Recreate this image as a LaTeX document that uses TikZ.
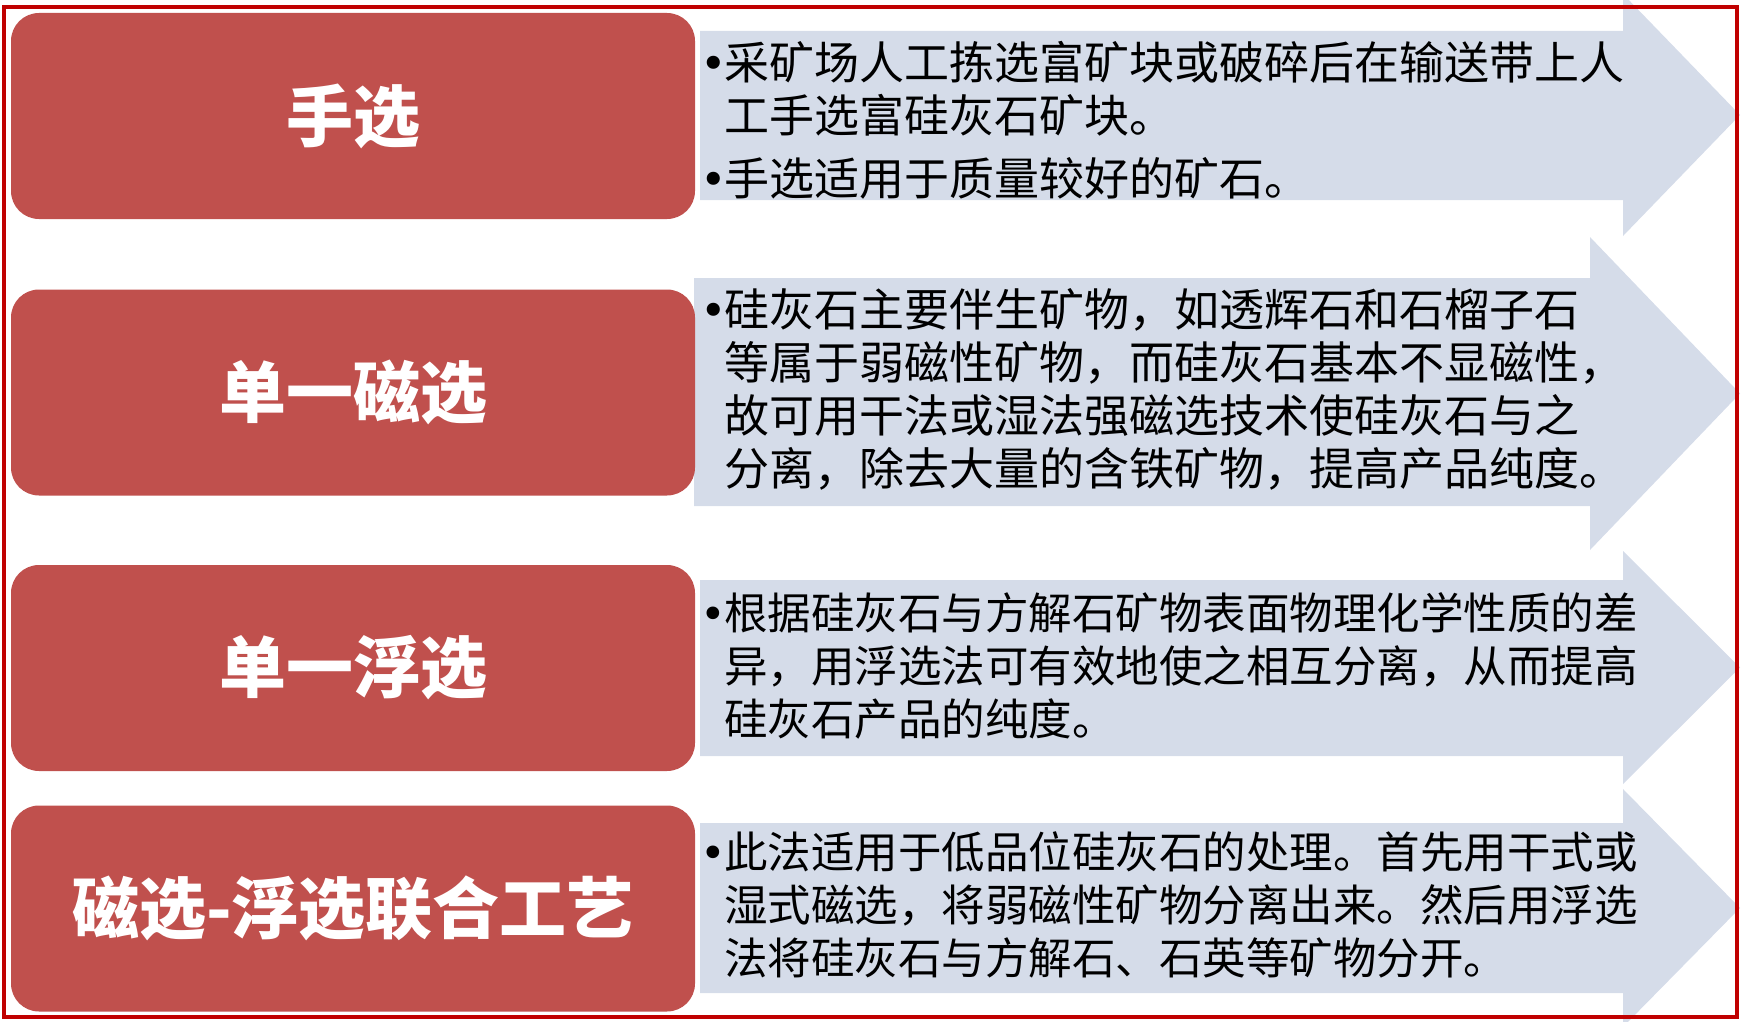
\documentclass[tikz,border=0pt]{standalone}
\usepackage{fontspec}
\newfontfamily\cjk{Noto Sans CJK SC}
\newfontfamily\dejavu{DejaVu Sans}
\usepackage{tikz}

\definecolor{boxred}{HTML}{C0504D}
\definecolor{arrowgray}{HTML}{D5DCE9}
\definecolor{framered}{HTML}{C00000}

\newcommand{\bul}{\makebox[18pt][l]{\hspace*{-6pt}{\dejavu •}}}
\newcommand{\ind}{\hspace*{18pt}}

\begin{document}
\begin{tikzpicture}[x=1pt,y=-1pt,
    method/.style={fill=boxred, rounded corners=28pt, minimum width=684pt,
      minimum height=206pt, text=white, font=\cjk\bfseries\fontsize{67}{72}\selectfont},
    note/.style={anchor=north west, inner sep=0pt, align=left,
      font=\cjk\fontsize{#1}{53}\selectfont}]

    \useasboundingbox (0,0) rectangle (1743,1022);

    % grey arrows: body top, body bottom, head top, head bottom, head base
    \foreach \bt/\bb/\ht/\hb/\hx/\lx in {31/200/-6/236/1623/700,
                                         278/506/237/550/1590/694,
                                         580/756/551/784/1623/700,
                                         823/993/789/1027/1623/700}
      \fill[arrowgray] (\lx,\bt) -- (\hx,\bt) -- (\hx,\ht) -- (1740,{(\ht+\hb)/2})
                       -- (\hx,\hb) -- (\hx,\bb) -- (\lx,\bb) -- cycle;

    % red boxes
    \node[method] (shouxuan) at (353,116) {手选};
    \node[method] (cixuan) at (353,392.5) {单一磁选};
    \node[method] (fuxuan) at (353,668) {单一浮选};
    \node[method] (lianhe) at (353,908.5) {磁选-浮选联合工艺};

    % texts
    \node[note=45] (shouxuantext) at (706,41) {\bul 采矿场人工拣选富矿块或破碎后在输送带上人\\
      \ind 工手选富硅灰石矿块。\\[10pt]
      \bul 手选适用于质量较好的矿石。};
    \node[note=45] (cixuantext) at (706,288) {\bul 硅灰石主要伴生矿物，如透辉石和石榴子石\\
      \ind 等属于弱磁性矿物，而硅灰石基本不显磁性，\\
      \ind 故可用干法或湿法强磁选技术使硅灰石与之\\
      \ind 分离，除去大量的含铁矿物，提高产品纯度。};
    \node[note=43.5] (fuxuantext) at (706,592) {\bul 根据硅灰石与方解石矿物表面物理化学性质的差\\
      \ind 异，用浮选法可有效地使之相互分离，从而提高\\
      \ind 硅灰石产品的纯度。};
    \node[note=43.5] (lianhetext) at (706,831) {\bul 此法适用于低品位硅灰石的处理。首先用干式或\\
      \ind 湿式磁选，将弱磁性矿物分离出来。然后用浮选\\
      \ind 法将硅灰石与方解石、石英等矿物分开。};

    % frame
    \draw[framered, line width=3.5pt] (4,7) rectangle (1737,1017);

\end{tikzpicture}
\end{document}
